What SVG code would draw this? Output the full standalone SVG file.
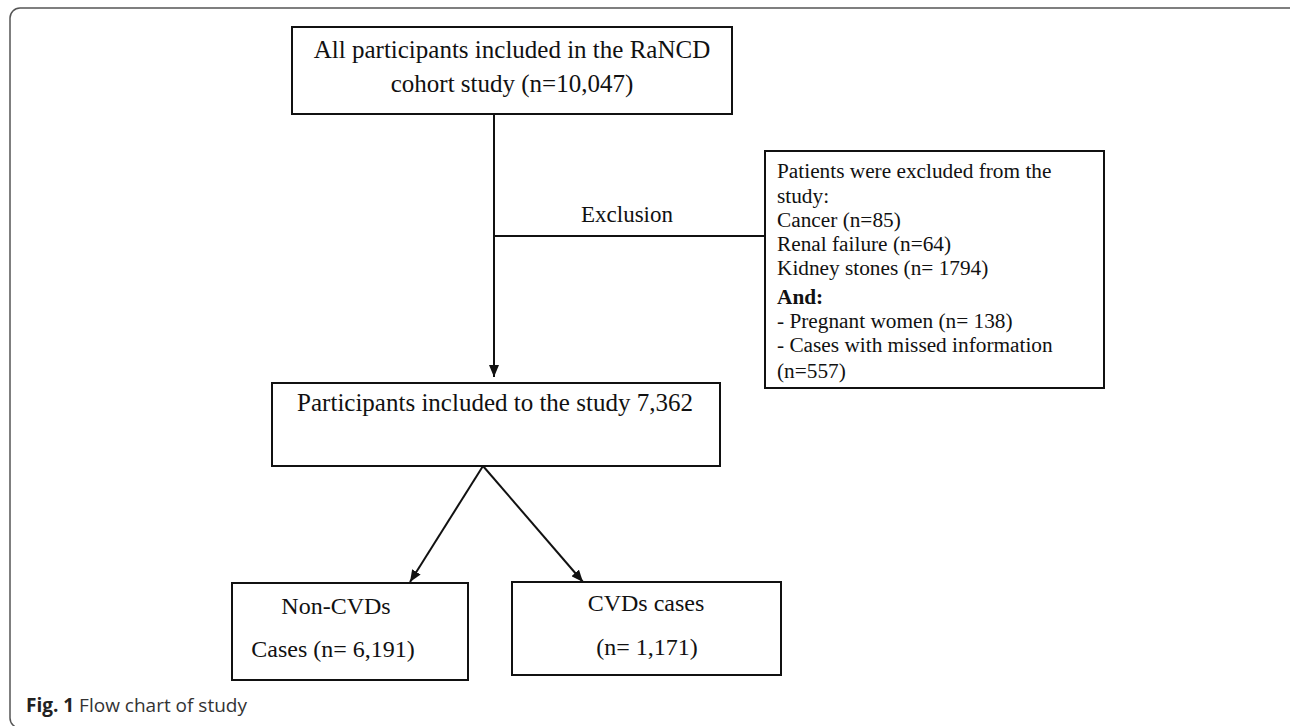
<svg xmlns="http://www.w3.org/2000/svg" width="1290" height="726" viewBox="0 0 1290 726">
<style>
.box{fill:#fff;stroke:#111;stroke-width:2}
.t{font-family:"Liberation Serif","Times New Roman",serif;fill:#111}
.big{font-size:25px}
.mid{font-size:24px}
.sm{font-size:21.3px}
.line{stroke:#111;stroke-width:2;fill:none}
.cap{font-family:"Open Sans","Liberation Sans",sans-serif;font-size:19px;fill:#333}
</style>
<defs>
<marker id="ah" viewBox="0 0 12 10" refX="12" refY="5" markerWidth="12" markerHeight="10" markerUnits="userSpaceOnUse" orient="auto">
<path d="M0,0 L12,5 L0,10 Z" fill="#111"/>
</marker>
</defs>
<rect x="10" y="8" width="1290" height="720" rx="10" fill="none" stroke="#555" stroke-width="1.5"/>
<g id="connectors">
<line class="line" x1="494" y1="114" x2="494" y2="377" marker-end="url(#ah)"/>
<line class="line" x1="494" y1="236" x2="765" y2="236"/>
<line class="line" x1="483" y1="466" x2="410" y2="582" marker-end="url(#ah)"/>
<line class="line" x1="483" y1="466" x2="583" y2="582" marker-end="url(#ah)"/>
</g>
<g id="node-all">
<rect class="box" x="292" y="27" width="440" height="87"/>
<text class="t big" x="512" y="58" text-anchor="middle">All participants included in the RaNCD</text>
<text class="t big" x="512" y="92" text-anchor="middle">cohort study (n=10,047)</text>
</g>
<g id="label-exclusion">
<text class="t" x="627" y="222" font-size="23" text-anchor="middle">Exclusion</text>
</g>
<g id="node-excluded">
<rect class="box" x="765" y="151" width="339" height="237"/>
<text class="t sm" x="777" y="178">Patients were excluded from the</text>
<text class="t sm" x="777" y="203">study:</text>
<text class="t sm" x="777" y="227">Cancer (n=85)</text>
<text class="t sm" x="777" y="251">Renal failure (n=64)</text>
<text class="t sm" x="777" y="275">Kidney stones (n= 1794)</text>
<text class="t sm" x="777" y="304" font-weight="bold">And:</text>
<text class="t sm" x="777" y="328">- Pregnant women (n= 138)</text>
<text class="t sm" x="777" y="352">- Cases with missed information</text>
<text class="t sm" x="777" y="378">(n=557)</text>
</g>
<g id="node-included">
<rect class="box" x="272" y="383" width="448" height="83"/>
<text class="t big" x="495" y="411" text-anchor="middle">Participants included to the study 7,362</text>
</g>
<g id="node-noncvd">
<rect class="box" x="232" y="583" width="236" height="97"/>
<text class="t mid" x="336" y="614" text-anchor="middle">Non-CVDs</text>
<text class="t mid" x="333" y="657" text-anchor="middle">Cases (n= 6,191)</text>
</g>
<g id="node-cvd">
<rect class="box" x="512" y="582" width="269" height="93"/>
<text class="t mid" x="646" y="611" text-anchor="middle">CVDs cases</text>
<text class="t mid" x="647" y="655" text-anchor="middle">(n= 1,171)</text>
</g>
<text class="cap" x="26" y="712"><tspan font-weight="bold" fill="#222">Fig. 1</tspan> Flow chart of study</text>
</svg>
